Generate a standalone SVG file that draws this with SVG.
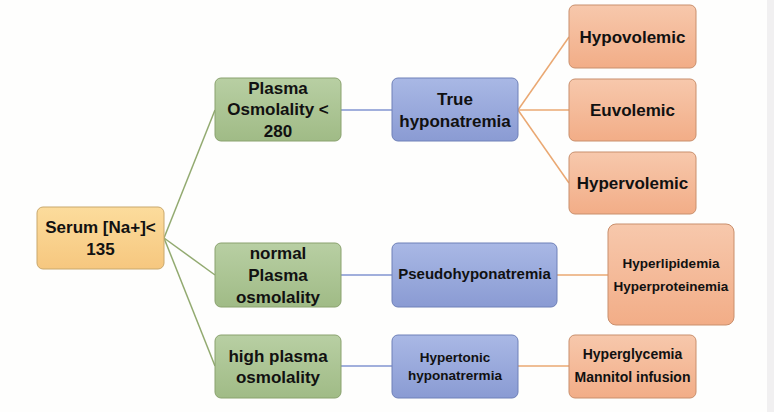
<svg xmlns="http://www.w3.org/2000/svg" width="774" height="412" viewBox="0 0 774 412">
<defs>
<linearGradient id="gY" x1="0" y1="0" x2="0" y2="1"><stop offset="0" stop-color="#fcdc9c"/><stop offset="1" stop-color="#f6c77f"/></linearGradient>
<linearGradient id="gG" x1="0" y1="0" x2="0" y2="1"><stop offset="0" stop-color="#b8cfa3"/><stop offset="1" stop-color="#a0bb86"/></linearGradient>
<linearGradient id="gB" x1="0" y1="0" x2="0" y2="1"><stop offset="0" stop-color="#a9b8e5"/><stop offset="1" stop-color="#8a9bd3"/></linearGradient>
<linearGradient id="gO" x1="0" y1="0" x2="0" y2="1"><stop offset="0" stop-color="#f7c8ac"/><stop offset="1" stop-color="#f2ad87"/></linearGradient>
</defs>
<style>
text{font-family:"Liberation Sans",Arial,sans-serif;font-weight:bold;fill:#111;text-anchor:middle}
.t17{font-size:17px}
.t15{font-size:15px}
.t14{font-size:14px}
.t13{font-size:13.5px}
.y{fill:url(#gY);stroke:#c9a86c;stroke-width:1}
.g{fill:url(#gG);stroke:#8aa26e;stroke-width:1}
.b{fill:url(#gB);stroke:#6e80b8;stroke-width:1}
.o{fill:url(#gO);stroke:#c98f6c;stroke-width:1}
.lg{stroke:#92aa70;stroke-width:1.5;fill:none}
.lb{stroke:#8294d0;stroke-width:1.5;fill:none}
.lo{stroke:#eaa872;stroke-width:1.5;fill:none}
</style>
<rect x="0" y="0" width="774" height="412" fill="#fefefd"/>
<rect x="767" y="0" width="7" height="412" fill="#f1f0f1"/>
<g id="connectors">
<line class="lg" x1="164" y1="238" x2="215" y2="110"/>
<line class="lg" x1="164" y1="238" x2="215" y2="275"/>
<line class="lg" x1="164" y1="238" x2="215" y2="366"/>
<line class="lb" x1="341" y1="110" x2="392" y2="110"/>
<line class="lb" x1="341" y1="275" x2="392" y2="275"/>
<line class="lb" x1="341" y1="366" x2="392" y2="366"/>
<line class="lo" x1="518" y1="110" x2="569" y2="37"/>
<line class="lo" x1="518" y1="110" x2="569" y2="110"/>
<line class="lo" x1="518" y1="110" x2="569" y2="183"/>
<line class="lo" x1="557" y1="275" x2="608" y2="275"/>
<line class="lo" x1="518" y1="366" x2="569" y2="366"/>
</g>
<g id="serum"><rect class="y" x="37" y="207" width="127" height="62" rx="6"/><text class="t17" x="100.5" y="233">Serum [Na+]&lt;</text><text class="t17" x="100.5" y="255">135</text></g>
<g id="plasma-low"><rect class="g" x="215" y="78" width="126" height="63" rx="6"/><text class="t17" x="278" y="94">Plasma</text><text class="t17" x="278" y="115">Osmolality &lt;</text><text class="t17" x="278" y="137">280</text></g>
<g id="plasma-normal"><rect class="g" x="215" y="243" width="126" height="64" rx="6"/><text class="t17" x="278" y="259">normal</text><text class="t17" x="278" y="281">Plasma</text><text class="t17" x="278" y="303">osmolality</text></g>
<g id="plasma-high"><rect class="g" x="215" y="335" width="126" height="63" rx="6"/><text class="t17" x="278" y="362">high plasma</text><text class="t17" x="278" y="383">osmolality</text></g>
<g id="true"><rect class="b" x="392" y="78" width="126" height="63" rx="6"/><text class="t17" x="455" y="105">True</text><text class="t17" x="455" y="127">hyponatremia</text></g>
<g id="pseudo"><rect class="b" x="392" y="243" width="165" height="64" rx="6"/><text class="t15" x="474.5" y="279">Pseudohyponatremia</text></g>
<g id="hypertonic"><rect class="b" x="392" y="335" width="126" height="63" rx="6"/><text class="t13" x="455" y="362">Hypertonic</text><text class="t13" x="455" y="380">hyponatrermia</text></g>
<g id="hypovolemic"><rect class="o" x="569" y="5" width="127" height="63" rx="6"/><text class="t17" x="632.5" y="43">Hypovolemic</text></g>
<g id="euvolemic"><rect class="o" x="569" y="79" width="127" height="62" rx="6"/><text class="t17" x="632.5" y="116">Euvolemic</text></g>
<g id="hypervolemic"><rect class="o" x="569" y="152" width="127" height="62" rx="6"/><text class="t17" x="632.5" y="189">Hypervolemic</text></g>
<g id="lipid"><rect class="o" x="608" y="224" width="126" height="101" rx="8"/><text class="t13" x="671" y="268">Hyperlipidemia</text><text class="t13" x="671" y="291">Hyperproteinemia</text></g>
<g id="glyc"><rect class="o" x="569" y="335" width="127" height="63" rx="6"/><text class="t14" x="632.5" y="359">Hyperglycemia</text><text class="t14" x="632.5" y="382">Mannitol infusion</text></g>
</svg>
